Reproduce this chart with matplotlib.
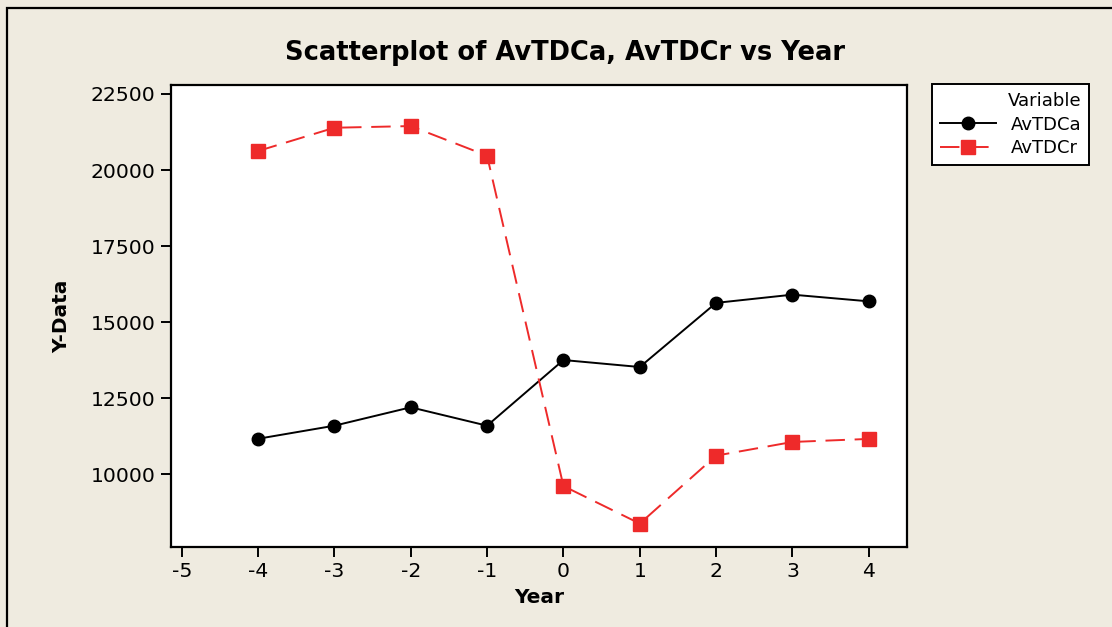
import matplotlib
matplotlib.use("Agg")
import matplotlib.pyplot as plt
from matplotlib.patches import Rectangle

years = [-4, -3, -2, -1, 0, 1, 2, 3, 4]
av_tdca = [11160, 11590, 12195, 11590, 13750, 13520, 15630, 15900, 15680]
av_tdcr = [20625, 21390, 21445, 20470, 9605, 8370, 10605, 11055, 11155]
xticks = [-5, -4, -3, -2, -1, 0, 1, 2, 3, 4]
yticks = [10000, 12500, 15000, 17500, 20000, 22500]

W, H = 1112, 627
bg = "#efebe0"
red = "#ee2a2a"

plt.rcParams['font.family'] = ['DejaVu Sans']
plt.rcParams['axes.unicode_minus'] = False

fig = plt.figure(figsize=(W / 100, H / 100), dpi=100, facecolor=bg)

# outer frame (extends beyond image on right/bottom)
fig.patches.append(Rectangle((7 / W, -0.2), 1.5, 1 - 8 / H + 0.2,
                             transform=fig.transFigure, fill=False,
                             edgecolor="black", linewidth=1.6, zorder=0))

ax = fig.add_axes([171 / W, 1 - 547 / H, (907 - 171) / W, (547 - 85) / H])
ax.set_facecolor("white")

ax.plot(years, av_tdca, color="black", linewidth=1.4, marker="o",
        markersize=9, label="AvTDCa", zorder=3)
ax.plot(years, av_tdcr, color=red, linewidth=1.4, marker="s",
        markersize=9.5, dashes=(10, 5), label="AvTDCr", zorder=3)

ax.set_xlim(-5.14, 4.50)
ax.set_ylim(7600, 22796)
ax.set_xticks(xticks)
ax.set_yticks(yticks)
ax.tick_params(axis="both", direction="out", length=7, width=1.4,
               labelsize=14.7, pad=4, colors="black")
for s in ax.spines.values():
    s.set_linewidth(1.6)

ax.set_xlabel("Year", fontsize=14.5, fontweight="bold", labelpad=5)
ax.set_ylabel("Y-Data", fontsize=14.5, fontweight="bold", labelpad=14)
fig.text(565 / W, 1 - 53 / H, "Scatterplot of AvTDCa, AvTDCr vs Year",
         ha="center", va="center", fontsize=18.5, fontweight="bold")

leg = fig.legend(loc="upper left", bbox_to_anchor=(932 / W, 1 - 84 / H),
                 bbox_transform=fig.transFigure, title="Variable",
                 alignment="right", fontsize=13, title_fontsize=13,
                 frameon=True, fancybox=False, edgecolor="black",
                 framealpha=1, handlelength=3.1, borderpad=0.45,
                 borderaxespad=0, labelspacing=0.3, handletextpad=0.8)
leg.get_frame().set_linewidth(1.4)

fig.savefig("out.png", dpi=100, facecolor=bg)
